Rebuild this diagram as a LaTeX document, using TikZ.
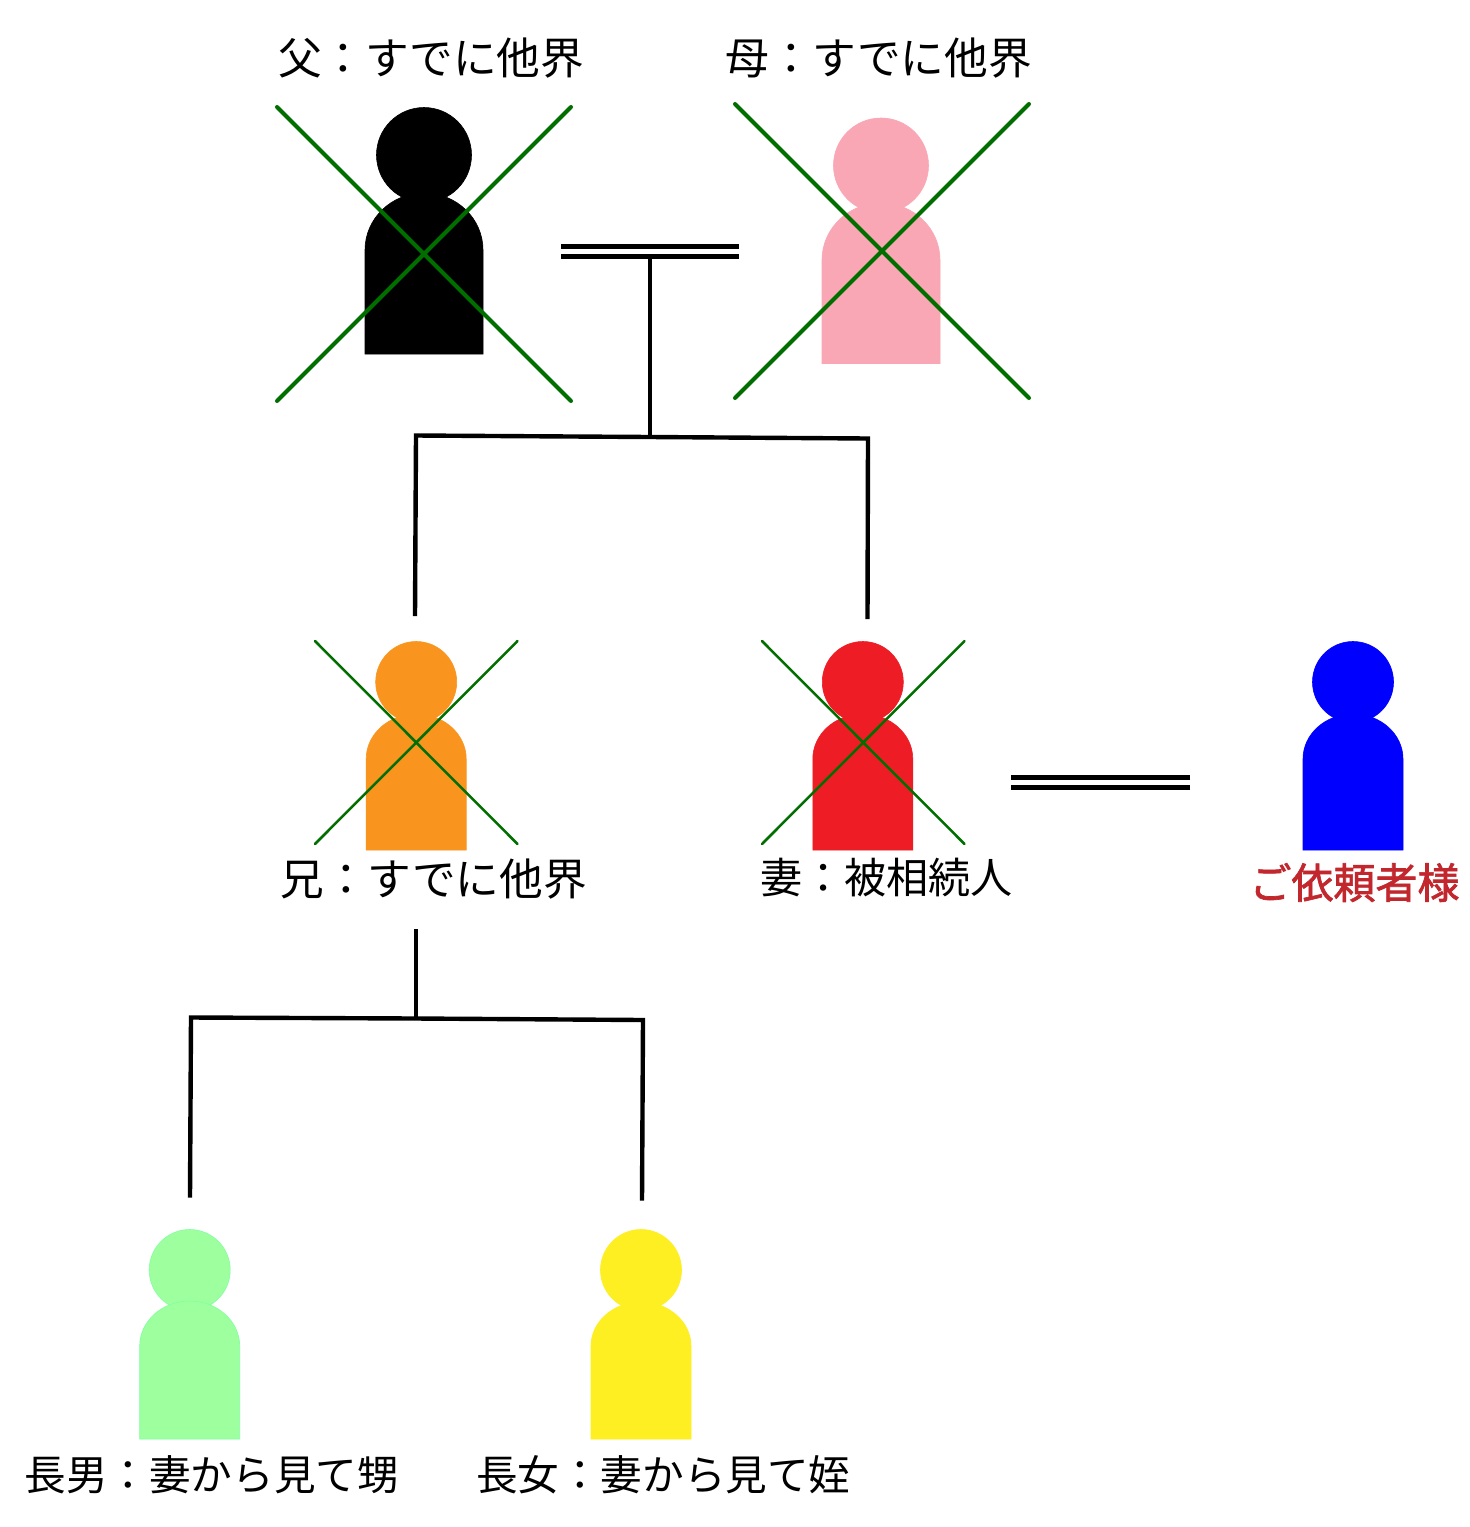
\documentclass[tikz,border=0pt]{standalone}
\usepackage{fontspec}
\setmainfont{Noto Sans CJK JP}
\newfontfamily\jpbold[FakeBold=1.6]{Noto Sans CJK JP}
\definecolor{crossgreen}{HTML}{006F00}
\definecolor{cOrange}{HTML}{F9951F}
\definecolor{cRed}{HTML}{EE1C25}
\definecolor{cPink}{HTML}{FAA7B5}
\definecolor{cBlue}{HTML}{0000FF}
\definecolor{cMint}{HTML}{9EFF9E}
\definecolor{cMintEdge}{HTML}{80FF9F}
\definecolor{cYellow}{HTML}{FDEF22}
\definecolor{cLabelRed}{HTML}{C1272D}
\tikzset{
  bigcross/.style={draw=crossgreen,line width=2pt,line cap=round},
  smallcross/.style={draw=crossgreen,line width=1.25pt,line cap=round},
  link/.style={draw=black,line width=2.2pt,line join=miter},
  marriage/.style={draw=black,line width=2.2pt},
  label/.style={anchor=base west,inner sep=0pt,outer sep=0pt,font=\fontsize{21.85pt}{24pt}\selectfont,text=black},
}
% cx, head cy, head r, half body width, body top, arch end, bottom, fill, edge
\newcommand{\personfig}[9]{%
  \filldraw[fill=#8,draw=#9,line width=.3pt] (#1,#2) circle[radius=#3];
  \filldraw[fill=#8,draw=#9,line width=.3pt] ({#1-#4},#7) -- ({#1-#4},#6)
     arc[start angle=180,end angle=360,x radius=#4,y radius={#6-#5}] -- ({#1+#4},#7) -- cycle;
}
\begin{document}
\begin{tikzpicture}[x=.5pt,y=-.5pt]
\useasboundingbox[fill=white] (0,0) rectangle (1469,1527);

% figures
\personfig{424}{155}{47.5}{59}{193}{250}{354}{black}{black}
\personfig{881}{165.5}{47.5}{59}{203}{260}{363.5}{cPink}{cPink}
\personfig{416.2}{682}{40.5}{50}{714}{759}{850}{cOrange}{cOrange}
\personfig{862.8}{682}{40.5}{50}{714}{759}{850}{cRed}{cRed}
\personfig{1353}{682}{40.5}{50}{714}{759}{850}{cBlue}{cBlue}
\personfig{189.7}{1270}{40.5}{50}{1301}{1346}{1439}{cMint}{cMintEdge}
\personfig{641}{1270}{40.5}{50}{1302}{1346}{1439}{cYellow}{cYellow}

% crosses
\coordinate (fa1) at (277,107); \coordinate (fa2) at (571,401);
\coordinate (fa3) at (571,107); \coordinate (fa4) at (277,401);
\draw[bigcross] (fa1) -- (fa2); \draw[bigcross] (fa3) -- (fa4);
\coordinate (mo1) at (735,104); \coordinate (mo2) at (1029,398);
\coordinate (mo3) at (1029,104); \coordinate (mo4) at (735,398);
\draw[bigcross] (mo1) -- (mo2); \draw[bigcross] (mo3) -- (mo4);
\coordinate (br1) at (315,641); \coordinate (br2) at (517.5,844);
\coordinate (br3) at (517.5,641); \coordinate (br4) at (315,844);
\draw[smallcross] (br1) -- (br2); \draw[smallcross] (br3) -- (br4);
\coordinate (wi1) at (762,641); \coordinate (wi2) at (964.5,844);
\coordinate (wi3) at (964.5,641); \coordinate (wi4) at (762,844);
\draw[smallcross] (wi1) -- (wi2); \draw[smallcross] (wi3) -- (wi4);

% marriages
\coordinate (m1a) at (561,246.5); \coordinate (m1b) at (739,246.5);
\coordinate (m1c) at (561,256.5); \coordinate (m1d) at (739,256.5);
\draw[marriage] (m1a) -- (m1b); \draw[marriage] (m1c) -- (m1d);
\coordinate (m2a) at (1011,777.5); \coordinate (m2b) at (1190,777.5);
\coordinate (m2c) at (1011,787.5); \coordinate (m2d) at (1190,787.5);
\draw[marriage] (m2a) -- (m2b); \draw[marriage] (m2c) -- (m2d);

% descent, first generation
\coordinate (t1) at (650,257); \coordinate (j1) at (650,437);
\coordinate (l1t) at (416,435.5); \coordinate (l1b) at (415,616);
\coordinate (r1t) at (868,438.5); \coordinate (r1b) at (867.5,619);
\draw[link] (t1) -- (j1);
\draw[link] (l1b) -- (l1t) -- (j1) -- (r1t) -- (r1b);

% descent, second generation
\coordinate (t2) at (416,929); \coordinate (j2) at (416,1018.5);
\coordinate (l2t) at (191,1017.5); \coordinate (l2b) at (190,1197.5);
\coordinate (r2t) at (643,1020); \coordinate (r2b) at (642,1200.5);
\draw[link] (t2) -- (j2);
\draw[link] (l2b) -- (l2t) -- (j2) -- (r2t) -- (r2b);

% labels
\node[label] (father) at (278,74) {父：すでに他界};
\node[label] (mother) at (725.5,74) {母：すでに他界};
\node[label] (brother) at (280.5,895) {兄：すでに他界};
\node[label,font=\fontsize{21.05pt}{24pt}\selectfont] (wife) at (760,893) {妻：被相続人};
\node[label,text=cLabelRed,font=\jpbold\fontsize{21pt}{24pt}\selectfont] (client) at (1249.5,898.5) {ご依頼者様};
\node[label,font=\fontsize{20.8pt}{24pt}\selectfont] (son) at (24.5,1490) {長男：妻から見て甥};
\node[label,font=\fontsize{20.8pt}{24pt}\selectfont] (daughter) at (476,1490) {長女：妻から見て姪};
\end{tikzpicture}
\end{document}
